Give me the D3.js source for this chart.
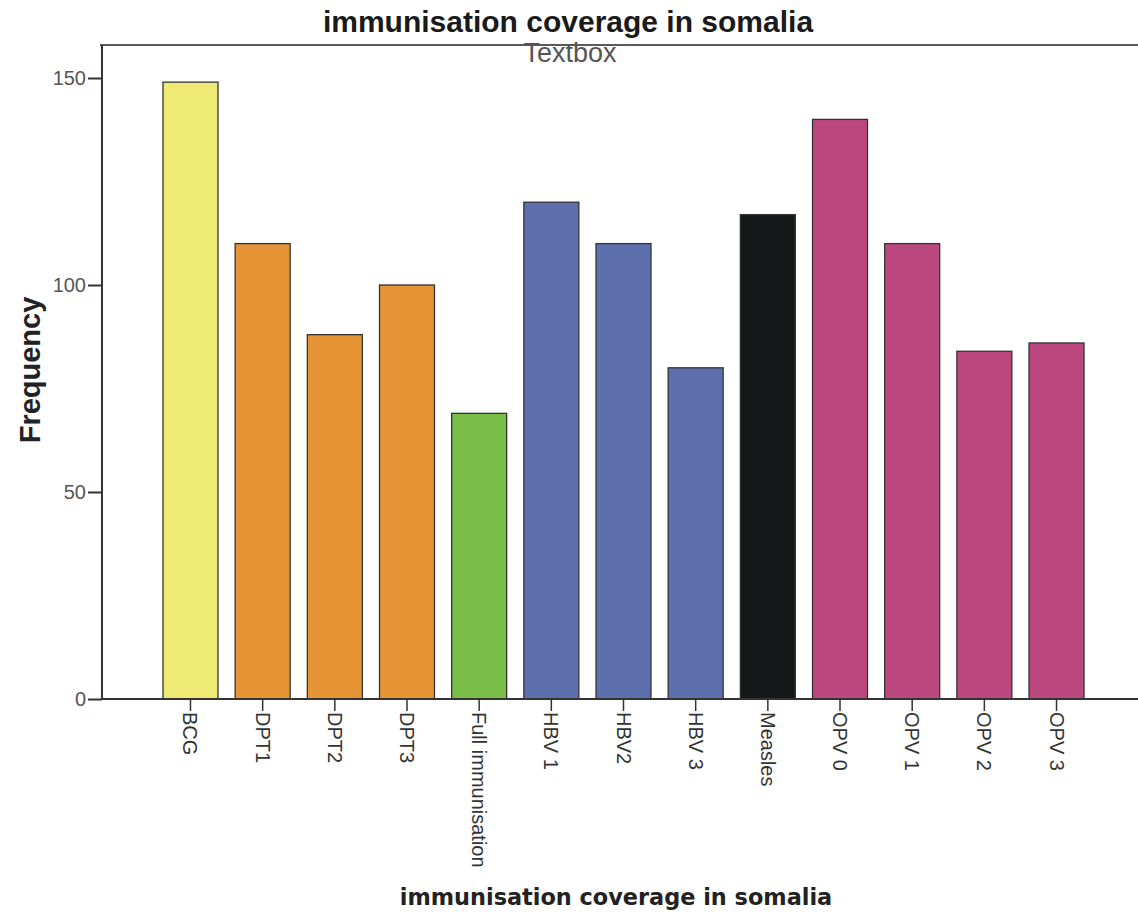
<!DOCTYPE html>
<html>
<head>
<meta charset="utf-8">
<script src="https://cdn.jsdelivr.net/npm/d3@7"></script>
<style>
  body { margin: 0; background: #fff; }
  svg { display: block; font-family: "Liberation Sans", Arial, sans-serif; }
</style>
</head>
<body>
<svg id="viz" width="1138" height="916"></svg>
<script>
// data
const categories = ["BCG", "DPT1", "DPT2", "DPT3", "Full immunisation", "HBV 1", "HBV2", "HBV 3",
  "Measles", "OPV 0", "OPV 1", "OPV 2", "OPV 3"];
const frequency = [149, 110, 88, 100, 69, 120, 110, 80, 117, 140, 110, 84, 86];
const groups = ["BCG", "DPT", "DPT", "DPT", "Full", "HBV", "HBV", "HBV", "Measles", "OPV", "OPV", "OPV", "OPV"];
const yTicks = [0, 50, 100, 150];

const groupColor = {
  BCG: "#efea73", DPT: "#e69536", Full: "#79be48", HBV: "#5e6fae", Measles: "#151819", OPV: "#bd4880"
};

const frame = { left: 102, right: 1138, top: 45, bottom: 699 };

const svg = d3.select("#viz");

const x = d3.scaleBand()
  .domain(categories)
  .range([154.4, 1092.6])
  .paddingInner(0.238)
  .paddingOuter(0.119);

const y = d3.scaleLinear()
  .domain([0, 150])
  .range([frame.bottom, 78]);

// top frame line
svg.append("line")
  .attr("x1", 100).attr("x2", frame.right)
  .attr("y1", frame.top).attr("y2", frame.top)
  .attr("stroke", "#5a5a5a").attr("stroke-width", 2);

// bars
svg.append("g")
  .selectAll("rect")
  .data(categories)
  .join("rect")
    .attr("x", d => x(d))
    .attr("width", x.bandwidth())
    .attr("y", (d, i) => y(frequency[i]))
    .attr("height", (d, i) => y(0) - y(frequency[i]))
    .attr("fill", (d, i) => groupColor[groups[i]])
    .attr("stroke", "#333")
    .attr("stroke-width", 1.3);

// y axis
const yAxis = svg.append("g")
  .attr("transform", `translate(${frame.left},0)`)
  .call(d3.axisLeft(y).tickValues(yTicks).tickSize(14).tickSizeOuter(0).tickPadding(2));
yAxis.select(".domain").remove();
yAxis.append("line")
  .attr("x1", 0).attr("x2", 0)
  .attr("y1", frame.top).attr("y2", frame.bottom)
  .attr("stroke", "#333").attr("stroke-width", 2);
yAxis.selectAll(".tick line").attr("stroke", "#333").attr("stroke-width", 2);
yAxis.selectAll(".tick text")
  .attr("fill", "#555")
  .style("font-size", "20px")
  .style("font-family", "'Liberation Sans', Arial, sans-serif");

// x axis
const xAxis = svg.append("g")
  .attr("transform", `translate(0,${frame.bottom})`)
  .call(d3.axisBottom(x).tickSize(12).tickSizeOuter(0));
xAxis.select(".domain").remove();
xAxis.append("line")
  .attr("x1", frame.left).attr("x2", frame.right)
  .attr("y1", 0).attr("y2", 0)
  .attr("stroke", "#333").attr("stroke-width", 2);
xAxis.selectAll(".tick line").attr("stroke", "#333").attr("stroke-width", 1.5);
xAxis.selectAll(".tick text")
  .attr("fill", "#333")
  .attr("transform", "rotate(90)")
  .attr("x", 13)
  .attr("y", 0)
  .attr("dy", "0.35em")
  .attr("text-anchor", "start")
  .style("font-size", "20px")
  .style("font-family", "'Liberation Sans', Arial, sans-serif");

// titles
svg.append("text")
  .attr("x", 568).attr("y", 32)
  .attr("text-anchor", "middle")
  .attr("font-weight", "bold")
  .attr("font-size", 30)
  .attr("fill", "#1a1a1a")
  .text("immunisation coverage in somalia");

svg.append("text")
  .attr("x", 570).attr("y", 62)
  .attr("text-anchor", "middle")
  .attr("font-size", 27)
  .attr("fill", "#555")
  .text("Textbox");

svg.append("text")
  .attr("transform", "translate(40,370) rotate(-90)")
  .attr("text-anchor", "middle")
  .attr("font-weight", "bold")
  .attr("font-size", 29)
  .attr("fill", "#222")
  .text("Frequency");

svg.append("text")
  .attr("x", 616).attr("y", 905)
  .attr("text-anchor", "middle")
  .attr("font-weight", "bold")
  .attr("font-size", 22.4)
  .attr("fill", "#222")
  .style("font-family", "'DejaVu Sans', Verdana, sans-serif")
  .text("immunisation coverage in somalia");
</script>
</body>
</html>
